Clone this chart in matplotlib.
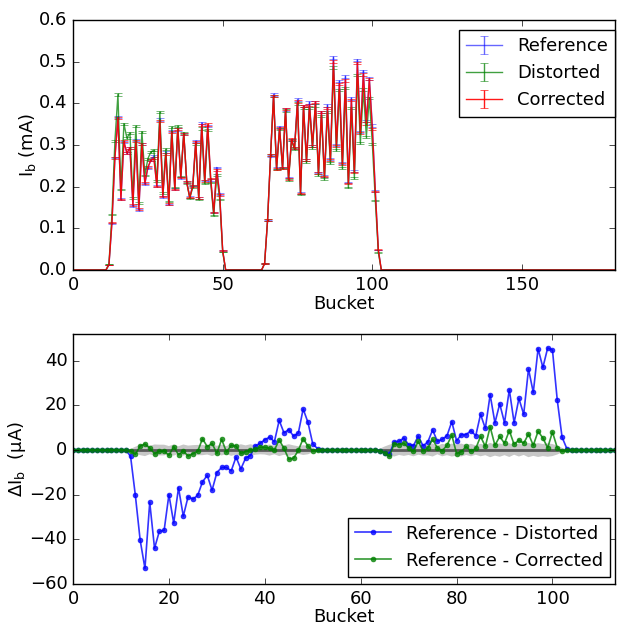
import numpy as np
import matplotlib
matplotlib.use('Agg')
import matplotlib.pyplot as plt

plt.style.use('classic')
plt.rcParams['font.family'] = ['DejaVu Sans']
plt.rcParams['mathtext.fontset'] = 'dejavusans'
plt.rcParams['font.size'] = 13

# bunch buckets, two trains
n_buckets = 182
train1_first = 12
train2_first = 64

# reference beam current per bucket (mA)
ref_train1 = [0.012, 0.112, 0.270, 0.368, 0.170, 0.307, 0.280, 0.293, 0.153, 0.312,
              0.144, 0.302, 0.206, 0.245, 0.263, 0.273, 0.202, 0.361, 0.175, 0.282,
              0.157, 0.333, 0.195, 0.337, 0.221, 0.327, 0.211, 0.175, 0.203, 0.309,
              0.173, 0.353, 0.215, 0.345, 0.216, 0.138, 0.246, 0.182, 0.046, 0.000]
ref_train2 = [0.015, 0.119, 0.274, 0.421, 0.245, 0.343, 0.246, 0.385, 0.222, 0.313,
              0.293, 0.409, 0.185, 0.393, 0.265, 0.402, 0.297, 0.402, 0.234, 0.379,
              0.225, 0.395, 0.266, 0.510, 0.300, 0.453, 0.257, 0.464, 0.210, 0.412,
              0.237, 0.504, 0.331, 0.478, 0.357, 0.459, 0.347, 0.189, 0.048, 0.000]

# reference - distorted (uA)
dd_train1 = [-2.8, -20.3, -40.3, -53.0, -23.4, -44.0, -36.4, -36.0, -20.0, -32.7,
             -16.9, -29.6, -20.9, -22.0, -20.3, -14.3, -11.3, -18.0, -10.1, -7.8,
             -7.8, -9.3, -3.1, -8.5, -3.6, -2.5, 1.8, 3.0, 4.6, 5.8,
             3.7, 13.3, 7.7, 9.2, 6.2, 7.7, 18.4, 12.4, 2.8, 0.6]
dd_train2 = [-0.4, -1.2, -1.8, 3.7, 3.9, 5.4, 2.4, 1.9, 6.3, 1.9,
             3.6, 9.0, 3.9, 4.8, 6.4, 12.7, 4.2, 6.9, 6.9, 8.7,
             6.4, 16.0, 9.7, 24.8, 12.2, 20.7, 12.2, 27.0, 12.2, 23.1,
             16.0, 36.3, 25.8, 45.4, 37.0, 45.7, 44.8, 22.4, 5.8, 0.6]

# reference - corrected (uA)
dc_train1 = [-0.6, -1.9, 1.8, 2.7, 0.9, -1.6, -0.6, -0.4, -2.4, 1.5,
             -2.1, -0.4, -2.7, -1.6, -0.6, 5.1, 1.5, 3.0, -1.5, 4.8,
             -0.9, 2.1, 1.8, -1.5, -0.7, 0.0, 0.3, 1.2, 1.2, 0.8,
             0.0, 4.5, 0.8, -4.1, -3.7, -0.1, 5.1, 1.8, -0.4, 0.0]
dc_train2 = [-0.4, -1.2, -2.7, 2.8, 2.4, 3.1, 0.9, -0.6, 3.9, -0.3,
             0.9, 4.8, 1.0, -0.3, 2.1, 6.7, -1.6, -0.7, 1.6, -0.6,
             0.7, 6.1, 1.6, 10.4, 2.1, 6.1, 3.0, 8.7, 2.5, 4.5,
             3.0, 7.2, 2.1, 8.4, 5.4, 1.0, 8.1, 1.0, -0.6, 0.0]

# measurement uncertainty (uA)
err_train1 = [0.5, 1.5, 2.3, 2.7, 1.9, 2.5, 2.4, 2.4, 1.8, 2.5,
              1.7, 2.5, 2.0, 2.2, 2.3, 2.3, 2.0, 2.7, 1.9, 2.4,
              1.8, 2.6, 2.0, 2.6, 2.1, 2.6, 2.1, 1.9, 2.0, 2.5,
              1.9, 2.7, 2.1, 2.6, 2.1, 1.7, 2.2, 1.9, 1.0, 0.0]
err_train2 = [0.6, 1.6, 2.4, 2.9, 2.2, 2.6, 2.2, 2.8, 2.1, 2.5,
              2.4, 2.9, 1.9, 2.8, 2.3, 2.9, 2.5, 2.9, 2.2, 2.8,
              2.1, 2.8, 2.3, 3.2, 2.5, 3.0, 2.3, 3.1, 2.1, 2.9,
              2.2, 3.2, 2.6, 3.1, 2.7, 3.0, 2.7, 2.0, 1.0, 0.0]

bucket = np.arange(n_buckets)
ref = np.zeros(n_buckets)
d_dist = np.zeros(n_buckets)
d_corr = np.zeros(n_buckets)
err = np.zeros(n_buckets)
for first, r, dd, dc, e in [(train1_first, ref_train1, dd_train1, dc_train1, err_train1),
                            (train2_first, ref_train2, dd_train2, dc_train2, err_train2)]:
    sl = slice(first, first + len(r))
    ref[sl] = r
    d_dist[sl] = dd
    d_corr[sl] = dc
    err[sl] = e

dist = ref - d_dist / 1000.0
corr = ref - d_corr / 1000.0

fig = plt.figure(figsize=(6.21, 6.26), dpi=100)
fig.patch.set_facecolor('white')
ax1 = fig.add_axes([0.1176, 0.5687, 0.8724, 0.3994])
ax2 = fig.add_axes([0.1176, 0.0671, 0.8724, 0.3994])

# top: currents
for y, c, a, lab in [(ref, 'b', 0.6, 'Reference'), (dist, 'g', 0.75, 'Distorted'),
                     (corr, 'r', 0.9, 'Corrected')]:
    ax1.errorbar(bucket, y, yerr=err / 1000.0, color=c, alpha=a, capsize=3, lw=1, label=lab)
ax1.set_xlim(0, 181)
ax1.set_ylim(0, 0.6)
ax1.set_xticks([0, 50, 100, 150])
ax1.set_xlabel('Bucket', labelpad=1)
ax1.set_ylabel(r'I$_\mathrm{b}$ (mA)', labelpad=1)
ax1.legend(loc='upper right', numpoints=1, fontsize=13, borderaxespad=0,
           bbox_to_anchor=(615 / 621, 1 - 30 / 626), bbox_transform=fig.transFigure)

# bottom: differences
ax2.fill_between(bucket, -err, err, color='0.78', lw=0)
ax2.axhline(0, color='0.35', lw=2)
ax2.plot(bucket, d_dist, color='b', marker='o', ms=3.5, mec='b', alpha=0.8, lw=1.2,
         label='Reference - Distorted')
ax2.plot(bucket, d_corr, color='g', marker='o', ms=3.5, mec='g', alpha=0.8, lw=1.2,
         label='Reference - Corrected')
ax2.set_xlim(0, 113)
ax2.set_ylim(-60, 52)
ax2.set_yticks([-60, -40, -20, 0, 20, 40])
ax2.set_xlabel('Bucket', labelpad=0)
ax2.set_ylabel(r'$\Delta$I$_\mathrm{b}$  (μA)', labelpad=1)
ax2.legend(loc='lower right', numpoints=1, fontsize=13, borderaxespad=0,
           bbox_to_anchor=(610 / 621, 1 - 577 / 626), bbox_transform=fig.transFigure)

fig.savefig('out.png', dpi=100)
